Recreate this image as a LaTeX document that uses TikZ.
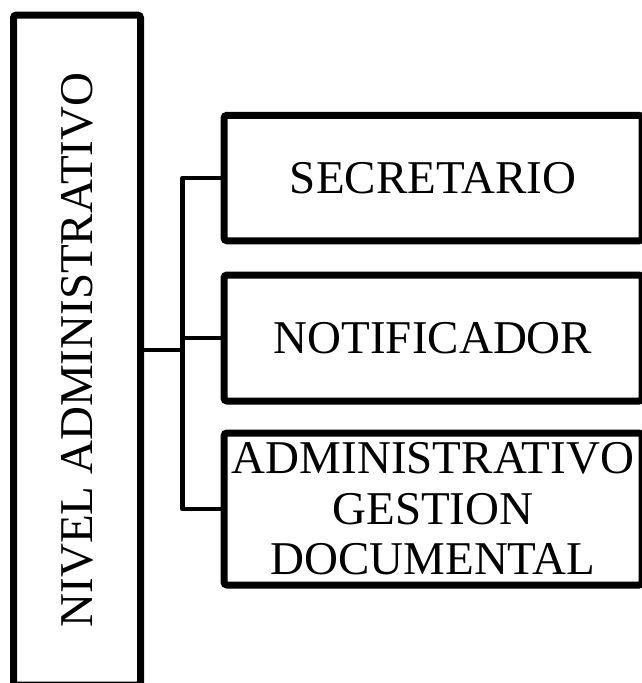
\documentclass[tikz,border=0pt]{standalone}
\usepackage{fontspec}
\setmainfont{Liberation Serif}
\usetikzlibrary{shadows}

\begin{document}
\begin{tikzpicture}[x=1pt,y=-1pt,
  caja/.style={draw, line width=7pt, rounded corners=3pt, fill=white, inner sep=0pt,
    drop shadow={shadow xshift=3pt, shadow yshift=-3pt, opacity=0.2, fill=black},
    font=\fontsize{47}{50.5}\selectfont, align=center},
  conector/.style={line width=4.5pt, line join=round}]

\useasboundingbox (0,0) rectangle (642,683);

% Main box
\node[caja, minimum width=127pt, minimum height=670pt] (nivel) at (77,350) {\rotatebox{90}{NIVEL ADMINISTRATIVO}};

% Boxes on the right
\node[caja, minimum width=418pt, minimum height=125.5pt] (secretario) at (433,178) {SECRETARIO};
\node[caja, minimum width=418pt, minimum height=126pt] (notificador) at (433,338) {NOTIFICADOR};
\node[caja, minimum width=418pt, minimum height=152pt] (gestion) at (433,509) {ADMINISTRATIVO\\GESTION\\DOCUMENTAL};

% Connectors
\coordinate (bus) at (182.5,350);
\draw[conector] (nivel.east) -- (bus);
\draw[conector] (secretario.west) -| (bus) |- (gestion.west);
\draw[conector] (bus |- notificador.west) -- (notificador.west);

\end{tikzpicture}
\end{document}
